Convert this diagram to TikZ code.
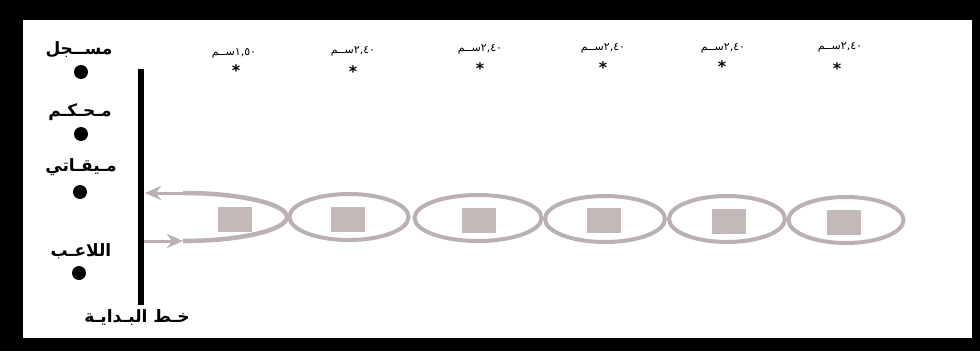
\documentclass[tikz,border=0pt]{standalone}
\usepackage{fontspec}
\setmainfont{DejaVu Sans}
\newfontfamily\arabicfont[Script=Arabic]{DejaVu Sans}
\TeXXeTstate=1
\usetikzlibrary{shapes.geometric,arrows.meta}
\definecolor{ringgray}{HTML}{BBB1B1}
\definecolor{boxgray}{HTML}{C3B9B9}
\begin{document}
\begin{tikzpicture}[x=1pt,y=-1pt,
  ring/.style={draw=ringgray,line width=4pt,ellipse,minimum height=46pt,inner sep=0pt},
  sq/.style={fill=boxgray,minimum width=34pt,minimum height=25pt,inner sep=0pt},
  role/.style={font=\arabicfont\bfseries\fontsize{17}{20}\selectfont,inner sep=0pt},
  dot/.style={circle,fill=black,minimum size=14pt,inner sep=0pt},
  dist/.style={font=\arabicfont\fontsize{11}{13}\selectfont,inner sep=0pt},
  starmark/.style={font=\bfseries\fontsize{16}{16}\selectfont,inner sep=0pt,anchor=base},
  arr/.style={draw=ringgray,line width=3pt,-{Stealth[length=16pt,width=14pt,inset=5pt]}},
]
\path[use as bounding box] (0,0) rectangle (980,351);
\fill[black] (0,0) rectangle (980,351);
\fill[white] (23,20) rectangle (972,338);

% start line
\coordinate (sl1) at (141,69);
\coordinate (sl2) at (141,305);
\draw[line width=6pt] (sl1) -- (sl2);
\node[role] (start) at (137,318) {\beginR خـط البـدايـة\endR};

% roles
\node[role] (r1) at (79,50) {\beginR مســجل\endR};
\node[dot] (d1) at (81,72) {};
\node[role] (r2) at (80,112) {\beginR مـحـكـم\endR};
\node[dot] (d2) at (81,134) {};
\node[role] (r3) at (81,167) {\beginR مـيقـاتي\endR};
\node[dot] (d3) at (80,192) {};
\node[role] (r4) at (81,251) {\beginR اللاعـب\endR};
\node[dot] (d4) at (79,273) {};

% distance labels
\node[dist] (t1) at (234,53) {\beginR\beginL ١,٥٠\endL ســم\endR};
\node[dist] (t2) at (353,51) {\beginR\beginL ٢,٤٠\endL ســم\endR};
\node[dist] (t3) at (480,49) {\beginR\beginL ٢,٤٠\endL ســم\endR};
\node[dist] (t4) at (603,48) {\beginR\beginL ٢,٤٠\endL ســم\endR};
\node[dist] (t5) at (723,48) {\beginR\beginL ٢,٤٠\endL ســم\endR};
\node[dist] (t6) at (840,47) {\beginR\beginL ٢,٤٠\endL ســم\endR};
\node[starmark] (s1) at (236,76) {*};
\node[starmark] (s2) at (353,77) {*};
\node[starmark] (s3) at (480,74) {*};
\node[starmark] (s4) at (603,73) {*};
\node[starmark] (s5) at (722,72) {*};
\node[starmark] (s6) at (837,74) {*};

% first open loop
\coordinate (topstart) at (183,193);
\coordinate (botstart) at (183,241);
\coordinate (cross) at (287,217);
\coordinate (ltip) at (145,193);
\coordinate (bstart) at (144,241);
\draw[ringgray,line width=4.5pt] (topstart) .. controls (240,193) and (287,204) .. (cross)
   .. controls (287,230) and (240,241) .. (botstart);
\draw[arr] (topstart) -- (ltip);
\draw[arr] (bstart) -- (botstart);

% rings
\node[ring,minimum width=119pt] (e2) at (349,217) {};
\node[ring,minimum width=127pt] (e3) at (478,218) {};
\node[ring,minimum width=120pt] (e4) at (605,219) {};
\node[ring,minimum width=116pt] (e5) at (727,219) {};
\node[ring,minimum width=115pt] (e6) at (846,220) {};

% squares
\node[sq] (q1) at (235,219) {};
\node[sq] (q2) at (348,219) {};
\node[sq] (q3) at (479,220) {};
\node[sq] (q4) at (604,220) {};
\node[sq] (q5) at (729,221) {};
\node[sq] (q6) at (844,222) {};
\end{tikzpicture}
\end{document}
